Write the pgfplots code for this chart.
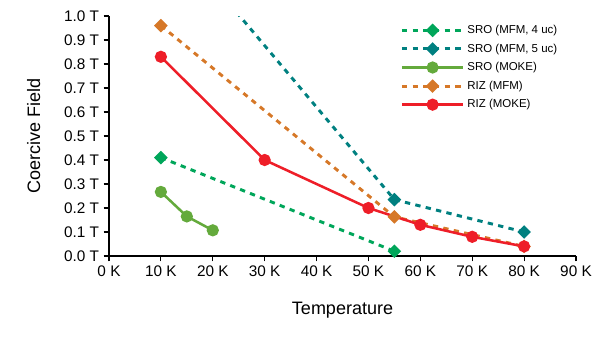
\documentclass[border=0pt]{standalone}
\usepackage{pgfplots}
\pgfplotsset{compat=1.18}
\usepackage{fontspec}
\setmainfont{Liberation Sans}
\definecolor{cA}{RGB}{0,166,90}
\definecolor{cB}{RGB}{0,128,128}
\definecolor{cC}{RGB}{100,170,60}
\definecolor{cD}{RGB}{214,120,40}
\definecolor{cE}{RGB}{238,30,40}
\begin{document}
\begin{tikzpicture}
\useasboundingbox (0pt,0pt) rectangle (453.75pt,255pt);
\begin{axis}[
  at={(81.75pt,63pt)}, anchor=south west,
  scale only axis, width=350.25pt, height=180pt,
  xmin=0, xmax=90, ymin=0, ymax=1.0,
  xtick={0,10,...,90}, ytick={0,0.1,...,1.0},
  xticklabel={\pgfmathprintnumber[fixed,precision=0]{\tick} K},
  yticklabel={\pgfmathprintnumber[fixed,fixed zerofill,precision=1]{\tick} T},
  /pgf/number format/assume math mode=true,
  axis x line*=bottom, axis y line*=left,
  axis line style={black, line width=0.8pt, -},
  tick style={black, line width=0.8pt},
  tick align=outside, major tick length=4pt,
  ticklabel style={font=\fontsize{11.5}{13}\selectfont},
  xlabel={Temperature}, ylabel={Coercive Field},
  label style={font=\fontsize{13.5}{15}\selectfont},
  xlabel style={yshift=-12pt},
  ylabel style={yshift=11pt},
  clip=true,
  legend cell align=left,
  legend style={draw=none, fill=none, at={(0.615,0.985)}, anchor=north west,
    font=\fontsize{8.6}{10}\selectfont, row sep=2.2pt},
  legend image code/.code={\draw[mark repeat=2,mark phase=2,#1] plot coordinates {(0pt,0pt) (23pt,0pt) (46pt,0pt)};},
  every axis plot/.append style={line width=1.9pt},
  dsh/.style={dash pattern=on 4pt off 4pt, line width=2.2pt, mark=square*, mark size=2.5pt, mark options={solid, rotate=45}},
]
\addplot[cA, dsh] coordinates {(10,0.41) (55,0.02)};
\addlegendentry{SRO (MFM, 4 uc)}
\addplot[cB, dsh] coordinates {(10,1.39) (55,0.235) (80,0.10)};
\addlegendentry{SRO (MFM, 5 uc)}
\addplot[cC, mark=*, mark size=3.6pt] coordinates {(10,0.267) (15,0.165) (20,0.107)};
\addlegendentry{SRO (MOKE)}
\addplot[cD, dsh] coordinates {(10,0.96) (55,0.163) (80,0.04)};
\addlegendentry{RIZ (MFM)}
\addplot[cE, mark=*, mark size=3.6pt] coordinates {(10,0.83) (30,0.40) (50,0.20) (60,0.13) (70,0.08) (80,0.04)};
\addlegendentry{RIZ (MOKE)}
\end{axis}
\end{tikzpicture}
\end{document}
